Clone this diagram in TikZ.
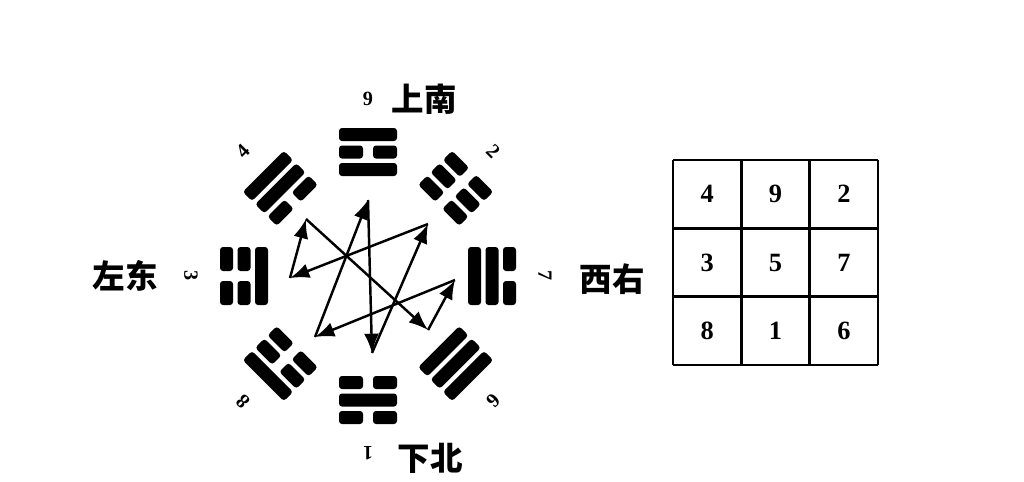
\documentclass[tikz,border=0pt]{standalone}
\usepackage{fontspec}
\setmainfont{Liberation Serif}
\newfontfamily\cjk{Noto Sans CJK SC}
\usetikzlibrary{calc}
\usetikzlibrary{arrows.meta}

\tikzset{
  bar/.style={fill=black, rounded corners=1.7pt},
  sign/.style={font=\bfseries\fontsize{11.5}{13}\selectfont},
  place/.style={font=\cjk\bfseries\fontsize{18.5}{22}\selectfont},
  cell/.style={font=\bfseries\fontsize{15}{18}\selectfont},
  gridline/.style={line width=1.6pt},
  flow/.style={line width=1.4pt, -{Latex[length=11pt,width=8.5pt]}},
}

\begin{document}
\begin{tikzpicture}[x=0.02cm,y=0.02cm]
  \fill[white] (0,0) rectangle (1024,481);
  \useasboundingbox (0,0) rectangle (1024,481);
  \coordinate (c) at (368,205);

  % eight trigrams, lines listed from inner to outer
  \foreach \ang/\a/\b/\c/\num/\rot in {90/1/0/1/9/0, 45/0/0/0/2/-45, 0/1/1/0/7/-90,
      -45/1/1/1/6/-135, -90/0/1/0/1/180, -135/0/0/1/8/135, 180/1/0/0/3/-90, 135/0/1/1/4/45}
  {
    \begin{scope}[shift={($(c)+(\ang:124)$)}, rotate=\ang-90]
      \foreach \v [count=\k] in {\a,\b,\c} {
        \pgfmathsetmacro\yy{(\k-2)*17.5}
        \ifnum\v=1
          \fill[bar] (-29,\yy-6.5) rectangle (29,\yy+6.5);
        \else
          \fill[bar] (-29,\yy-6.5) rectangle (-5,\yy+6.5);
          \fill[bar] (5,\yy-6.5) rectangle (29,\yy+6.5);
        \fi
      }
    \end{scope}
    \node[sign, rotate=\rot] (d\num) at ($(c)+(\ang:177)$) {\num};
  }

  \node[place] (south) at (424,382) {上南};
  \node[place] (east) at (125,205) {左东};
  \node[place] (west) at (612,202) {西右};
  \node[place] (north) at (430,23) {下北};

  % order of the numbers
  \coordinate (p1) at (372,128);
  \coordinate (p2) at (428,257);
  \coordinate (p3) at (290,203);
  \coordinate (p4) at (306,262);
  \coordinate (p6) at (428,151);
  \coordinate (p7) at (455,201);
  \coordinate (p8) at (315,144);
  \coordinate (p9) at (368,281);

  \draw[flow] (p1) -- (p2);
  \draw[flow] (p2) -- (p3);
  \draw[flow] (p3) -- (p4);
  \draw[flow] (p4) -- (p6);
  \draw[flow] (p6) -- (p7);
  \draw[flow] (p7) -- (p8);
  \draw[flow] (p8) -- (p9);
  \draw[flow] (p9) -- (p1);

  % magic square
  \foreach \i in {0,...,3} {
    \draw[gridline] (673+\i*68.33,116) -- (673+\i*68.33,321);
    \draw[gridline] (673,116+\i*68.33) -- (878,116+\i*68.33);
  }
  \foreach \n [count=\k from 0] in {4,9,2,3,5,7,8,1,6} {
    \pgfmathtruncatemacro\col{mod(\k,3)}
    \pgfmathtruncatemacro\row{int(\k/3)}
    \node[cell] (m\n) at (673+68.33*\col+34.17, 321-68.33*\row-34.17) {\n};
  }
\end{tikzpicture}
\end{document}
